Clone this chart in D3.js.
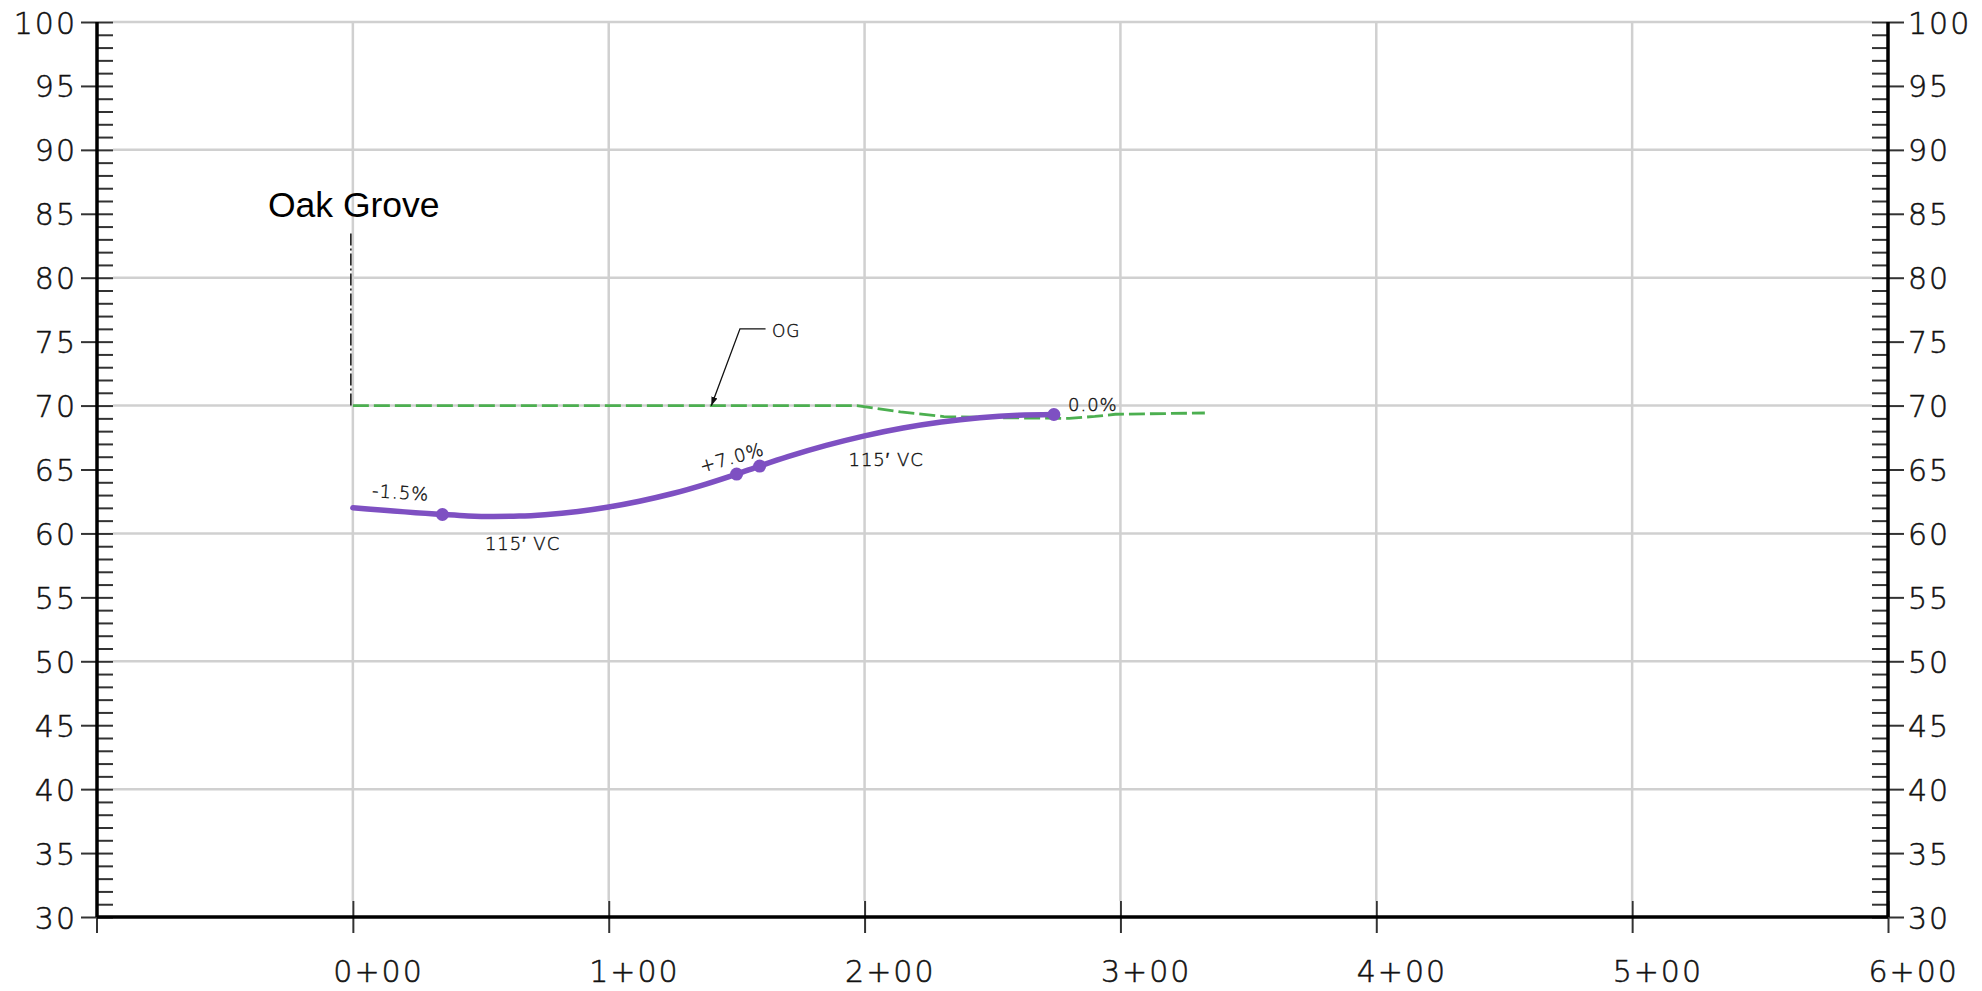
<!DOCTYPE html>
<html>
<head>
<meta charset="utf-8">
<script src="https://cdn.jsdelivr.net/npm/d3@7"></script>
<style>
  html, body { margin: 0; padding: 0; background: #fff; }
  svg { display: block; }
  .cad { font-family: "DejaVu Sans", sans-serif; font-weight: 200; fill: #111; stroke: #111; }
</style>
</head>
<body>
<svg id="chart" width="1982" height="991"></svg>
<script>
// ---------- data ----------
const elevMajorTicks = [30, 35, 40, 45, 50, 55, 60, 65, 70, 75, 80, 85, 90, 95, 100];
const elevGridLines = [40, 50, 60, 70, 80, 90, 100];
const stationTicks = [0, 100, 200, 300, 400, 500, 600];
const stationLabels = ["0+00", "1+00", "2+00", "3+00", "4+00", "5+00", "6+00"];
const stationGridLines = [0, 100, 200, 300, 400, 500];

// proposed profile (station ft, elevation ft)
const profileStations = [0, 35, 45, 55, 65, 75, 88, 100, 112, 125, 138, 150, 159, 170, 185, 200, 215, 230, 245, 260, 274];
const profileElevs = [62.0, 61.48, 61.37, 61.33, 61.36, 61.47, 61.72, 62.07, 62.52, 63.12, 63.86, 64.64, 65.27, 66.0, 66.88, 67.63, 68.24, 68.71, 69.04, 69.24, 69.30];

// vertical curve points (PVC / PVT)
const vcStations = [35, 150, 159, 274];
const vcElevs = [61.48, 64.64, 65.27, 69.30];

// original ground
const ogStations = [0, 197, 214, 231, 255, 280, 290, 298, 333];
const ogElevs = [70.0, 70.0, 69.5, 69.14, 69.04, 69.0, 69.15, 69.32, 69.42];

// station marker (dash-dot) at Oak Grove
const markerStation = 0;
const markerElevs = [70.0, 83.6];

// annotations
const annoTexts = ["-1.5%", "115\u2032 VC", "+7.0%", "115\u2032 VC", "0.0%"];
const annoStations = [7.4, 51.6, 148.2, 193.7, 279.5];
const annoElevs = [62.86, 58.72, 65.91, 65.29, 69.59];
const annoAngles = [4, 0, -16, 0, 0];

const titleText = "Oak Grove";
const titleStation = -33.2, titleElev = 84.75;

const ogLabel = "OG";
const ogLabelStation = 163.8, ogLabelElev = 75.33;
const leaderStations = [161.3, 151.3, 140.1];
const leaderElevs = [76.0, 76.0, 69.98];

// ---------- drawing ----------
const svg = d3.select("#chart");
const x = d3.scaleLinear().domain([-100, 600]).range([97, 1888]);
const y = d3.scaleLinear().domain([30, 100]).range([917, 22]);

const gridColor = "#d0d0d0";

// grid
svg.append("g").selectAll("line").data(elevGridLines).join("line")
  .attr("x1", x(-100) + 16).attr("x2", x(600) - 16)
  .attr("y1", d => y(d)).attr("y2", d => y(d))
  .attr("stroke", gridColor).attr("stroke-width", 2.5);
svg.append("g").selectAll("line").data(stationGridLines).join("line")
  .attr("x1", d => x(d)).attr("x2", d => x(d))
  .attr("y1", y(100)).attr("y2", y(30) - 16)
  .attr("stroke", gridColor).attr("stroke-width", 2.5);

// minor ticks (every 1 ft)
const minorVals = d3.range(30, 101, 1).filter(v => v % 5 !== 0);
const leftMinor = svg.append("g").attr("transform", `translate(${x(-100)},0)`)
  .call(d3.axisRight(y).tickValues(minorVals).tickSize(16).tickFormat(""));
const rightMinor = svg.append("g").attr("transform", `translate(${x(600)},0)`)
  .call(d3.axisLeft(y).tickValues(minorVals).tickSize(16).tickFormat(""));
[leftMinor, rightMinor].forEach(g => {
  g.select(".domain").remove();
  g.selectAll("line").attr("stroke", "#333").attr("stroke-width", 2);
});

// major ticks left
const leftAxis = svg.append("g").attr("transform", `translate(${x(-100)},0)`)
  .call(d3.axisLeft(y).tickValues(elevMajorTicks).tickSize(16).tickPadding(4).tickFormat(d3.format("d")));
leftAxis.select(".domain").remove();
leftAxis.selectAll(".tick line").attr("x1", 16).attr("x2", -16).attr("stroke", "#333").attr("stroke-width", 2);
leftAxis.selectAll(".tick text").attr("class", "cad").attr("font-size", 30).attr("stroke-width", 0.5)
  .attr("x", -20).attr("dy", null).attr("y", 11).attr("letter-spacing", 2);

// major ticks right
const rightAxis = svg.append("g").attr("transform", `translate(${x(600)},0)`)
  .call(d3.axisRight(y).tickValues(elevMajorTicks).tickSize(16).tickFormat(d3.format("d")));
rightAxis.select(".domain").remove();
rightAxis.selectAll(".tick line").attr("x1", -16).attr("x2", 16).attr("stroke", "#333").attr("stroke-width", 2);
rightAxis.selectAll(".tick text").attr("class", "cad").attr("font-size", 30).attr("stroke-width", 0.5)
  .attr("x", 20).attr("dy", null).attr("y", 11).attr("letter-spacing", 2);

// bottom axis
const bottomAxis = svg.append("g").attr("transform", `translate(0,${y(30)})`)
  .call(d3.axisBottom(x).tickValues(stationTicks).tickSize(16)
    .tickFormat((d, i) => stationLabels[i]));
bottomAxis.select(".domain").remove();
bottomAxis.selectAll(".tick line").attr("y1", -16).attr("y2", 16).attr("stroke", "#333").attr("stroke-width", 2);
bottomAxis.selectAll(".tick text").attr("class", "cad").attr("font-size", 30).attr("stroke-width", 0.5)
  .attr("text-anchor", "start").attr("x", -20).attr("dy", null).attr("y", 65).attr("letter-spacing", 2);
// tick at left corner
svg.append("line").attr("x1", x(-100)).attr("x2", x(-100))
  .attr("y1", y(30)).attr("y2", y(30) + 16).attr("stroke", "#333").attr("stroke-width", 2);

// axis lines
svg.append("line").attr("x1", x(-100)).attr("x2", x(600)).attr("y1", y(30)).attr("y2", y(30))
  .attr("stroke", "#000").attr("stroke-width", 3.5);
svg.append("line").attr("x1", x(-100)).attr("x2", x(-100)).attr("y1", y(100)).attr("y2", y(30))
  .attr("stroke", "#000").attr("stroke-width", 3.5);
svg.append("line").attr("x1", x(600)).attr("x2", x(600)).attr("y1", y(100)).attr("y2", y(30))
  .attr("stroke", "#000").attr("stroke-width", 3.5);

// station marker dash-dot
svg.append("line").attr("x1", x(markerStation) - 2).attr("x2", x(markerStation) - 2)
  .attr("y1", y(markerElevs[0])).attr("y2", y(markerElevs[1]))
  .attr("stroke", "#111").attr("stroke-width", 1.5).attr("stroke-dasharray", "12,3,2,3");

// original ground
const line = d3.line().x(d => x(d[0])).y(d => y(d[1]));
svg.append("path").datum(ogStations.map((s, i) => [s, ogElevs[i]]))
  .attr("d", line).attr("fill", "none").attr("stroke", "#4caf50")
  .attr("stroke-width", 2.8).attr("stroke-dasharray", "16,5");

// profile
const purple = "#7e50c2";
svg.append("path").datum(profileStations.map((s, i) => [s, profileElevs[i]]))
  .attr("d", d3.line().x(d => x(d[0])).y(d => y(d[1])).curve(d3.curveMonotoneX))
  .attr("fill", "none").attr("stroke", purple)
  .attr("stroke-width", 5.5).attr("stroke-linecap", "round");
svg.append("g").selectAll("circle").data(vcStations).join("circle")
  .attr("cx", d => x(d)).attr("cy", (d, i) => y(vcElevs[i])).attr("r", 6.5).attr("fill", purple);

// annotations
svg.append("g").selectAll("text").data(annoTexts).join("text")
  .attr("class", "cad").attr("font-size", 18).attr("letter-spacing", 1).attr("stroke-width", 0.4)
  .attr("text-anchor", (d, i) => annoAngles[i] < 0 ? "middle" : "start")
  .attr("transform", (d, i) => `translate(${x(annoStations[i])},${y(annoElevs[i])}) rotate(${annoAngles[i]})`)
  .attr("y", (d, i) => annoAngles[i] < 0 ? 6 : 0)
  .text(d => d);

// OG leader
svg.append("defs").append("marker").attr("id", "arrow")
  .attr("viewBox", "0 0 10 10").attr("refX", 10).attr("refY", 5)
  .attr("markerWidth", 9).attr("markerHeight", 9).attr("markerUnits", "userSpaceOnUse")
  .attr("orient", "auto")
  .append("path").attr("d", "M0,1.5 L10,5 L0,8.5 Z").attr("fill", "#111");
svg.append("path").datum(leaderStations.map((s, i) => [s, leaderElevs[i]]))
  .attr("d", line)
  .attr("fill", "none").attr("stroke", "#111").attr("stroke-width", 1.3)
  .attr("marker-end", "url(#arrow)");
svg.append("text").attr("class", "cad").attr("font-size", 17).attr("letter-spacing", 1).attr("stroke-width", 0.4)
  .attr("x", x(ogLabelStation)).attr("y", y(ogLabelElev)).text(ogLabel);

// title
svg.append("text").attr("x", x(titleStation)).attr("y", y(titleElev))
  .attr("font-family", "Liberation Sans, Arial, sans-serif").attr("font-size", 35.5)
  .attr("fill", "#000").text(titleText);
</script>
</body>
</html>
